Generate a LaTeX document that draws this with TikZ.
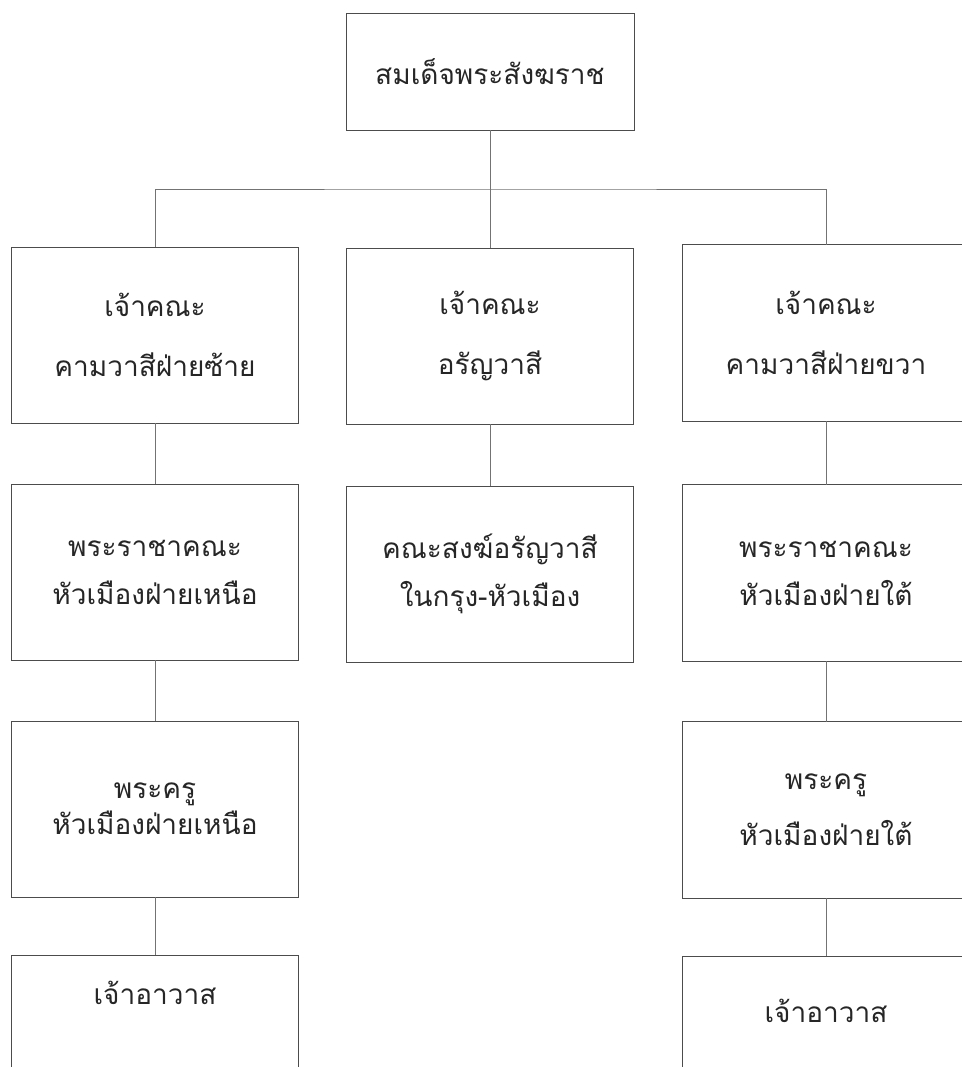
\documentclass[tikz,border=0pt]{standalone}
\usepackage{fontspec}
\newfontfamily\thaifont[Script=Thai]{Loma}
\tikzset{
    unit/.style={draw=black!70, line width=0.8pt, minimum width=287pt, minimum height=176pt,
        align=center, text=black!85, font=\thaifont\fontsize{28}{60}\selectfont},
    openunit/.style={unit, minimum height=0pt, anchor=north, text depth=90pt},
    edgeunit/.style={unit, draw=none},
    frame/.style={draw=black!70, line width=0.8pt},
    link/.style={draw=black!55, line width=0.8pt}
}
\begin{document}
        \begin{tikzpicture}[x=1pt, y=-1pt]
            \useasboundingbox[fill=white] (0,0) rectangle (961,1067);
            \node[unit, minimum width=288pt, minimum height=117pt] (top) at (490,71.5) {สมเด็จพระสังฆราช};
            \coordinate (split) at (490,189);
            \node[unit] (left1) at (155,335) {เจ้าคณะ\\คามวาสีฝ่ายซ้าย};
            \node[unit] (mid1) at (490,336) {เจ้าคณะ\\อรัญวาสี};
            \node[edgeunit] (right1) at (826,333) {เจ้าคณะ\\คามวาสีฝ่ายขวา};
            \node[unit, font=\thaifont\fontsize{28}{48}\selectfont] (left2) at (155,572) {พระราชาคณะ\\หัวเมืองฝ่ายเหนือ};
            \node[unit, font=\thaifont\fontsize{28}{48}\selectfont] (mid2) at (490,574) {คณะสงฆ์อรัญวาสี\\ในกรุง-หัวเมือง};
            \node[edgeunit, font=\thaifont\fontsize{28}{48}\selectfont] (right2) at (826,573) {พระราชาคณะ\\หัวเมืองฝ่ายใต้};
            \node[unit, font={\thaifont\fontsize{28}{36}\selectfont\lineskiplimit=-30pt}] (left3) at (155,809) {พระครู\\หัวเมืองฝ่ายเหนือ};
            \node[edgeunit, font=\thaifont\fontsize{28}{56}\selectfont] (right3) at (826,810) {พระครู\\หัวเมืองฝ่ายใต้};
            \node[openunit, text height=46pt] (left4) at (155,955) {เจ้าอาวาส};
            \node[openunit, draw=none, text height=63pt] (right4) at (826,956) {เจ้าอาวาส};
            \foreach \n in {right1,right2,right3}
                \draw[frame] (\n.north east) -- (\n.north west) -- (\n.south west) -- (\n.south east);
            \draw[frame] (right4.north east) -- (right4.north west) -- (right4.south west);
            \draw[link] (top) -- (split);
            \draw[link] (left1) |- (split) -| (right1);
            \draw[link] (split) -- (mid1);
            \draw[link] (left1) -- (left2);
            \draw[link] (left2) -- (left3);
            \draw[link] (left3) -- (left4);
            \draw[link] (mid1) -- (mid2);
            \draw[link] (right1) -- (right2);
            \draw[link] (right2) -- (right3);
            \draw[link] (right3) -- (right4);
        \end{tikzpicture}
\end{document}
